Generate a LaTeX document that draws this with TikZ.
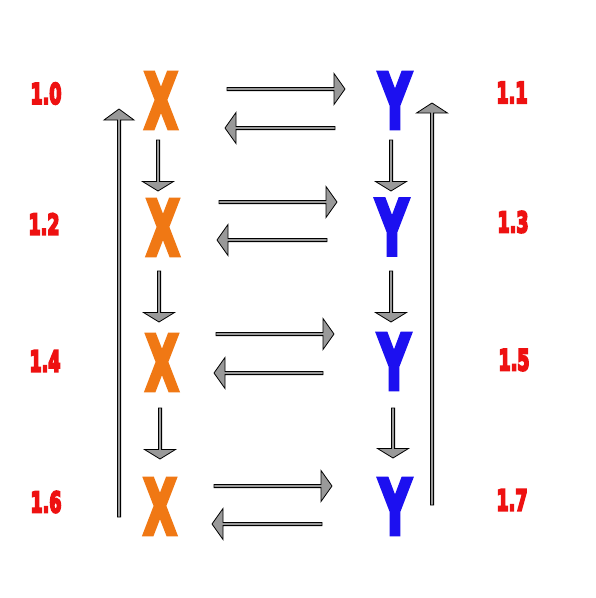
\documentclass[tikz,border=0pt]{standalone}
\usepackage{fontspec}
\usepackage{graphicx}
\usetikzlibrary{calc}
\newfontfamily\heavy{DejaVu Sans}[FakeBold=6]
\newfontfamily\heavier{DejaVu Sans}[FakeBold=8]
\definecolor{xorange}{HTML}{F07814}
\definecolor{yblue}{HTML}{1C10F0}
\definecolor{lred}{HTML}{EE1111}
\definecolor{agray}{HTML}{999999}
\tikzset{
  letter/.style={inner sep=0pt, font=\heavy\bfseries},
  xletter/.style={letter, text=xorange},
  yletter/.style={letter, text=yblue},
  numlabel/.style={inner sep=0pt, font=\heavier\bfseries, text=lred},
  arrowbody/.style={draw=black, fill=agray, line width=0.8pt, line join=miter}
}
% #1 start, #2 end, #3 head length, #4 head half width
\newcommand\blockarrow[4]{%
  \path ($(#2)!#3!(#1)$) coordinate (hb);
  \draw[arrowbody] ($(#1)!1.6pt!90:(#2)$) -- ($(hb)!1.6pt!-90:(#1)$)
    -- ($(hb)!#4!-90:(#1)$) -- (#2) -- ($(hb)!#4!90:(#1)$)
    -- ($(hb)!1.6pt!90:(#1)$) -- ($(#1)!1.6pt!-90:(#2)$) -- cycle;
}
\newcommand\xl{\resizebox{33pt}{55pt}{X}}
\newcommand\yl{\resizebox{32pt}{55pt}{Y}}
\newcommand\nl[1]{\resizebox{31pt}{21pt}{#1}}
\begin{document}
\begin{tikzpicture}[x=1pt,y=-1pt]
\useasboundingbox (0,0) rectangle (596,598);
\fill[white] (0,0) rectangle (596,598);
% letters
\node[xletter] (X1) at (161,100.5) {\xl};
\node[xletter] (X2) at (163,227.5) {\xl};
\node[xletter] (X3) at (162,362.5) {\xl};
\node[xletter] (X4) at (160,506.5) {\xl};
\node[yletter] (Y1) at (395,100.5) {\yl};
\node[yletter] (Y2) at (392,227) {\yl};
\node[yletter] (Y3) at (394,361.5) {\yl};
\node[yletter] (Y4) at (395,506.5) {\yl};
% labels
\node[numlabel] (L10) at (46,93.5) {\nl{1.0}};
\node[numlabel] (L12) at (44,224) {\nl{1.2}};
\node[numlabel] (L14) at (45,361) {\nl{1.4}};
\node[numlabel] (L16) at (46,502) {\nl{1.6}};
\node[numlabel] (L11) at (512,92.5) {\nl{1.1}};
\node[numlabel] (L13) at (513,222) {\nl{1.3}};
\node[numlabel] (L15) at (514,360) {\nl{1.5}};
\node[numlabel] (L17) at (512,500) {\nl{1.7}};
% arrow end points
\coordinate (r1a) at (227,89);  \coordinate (r1b) at (345,89);
\coordinate (l1a) at (335,128); \coordinate (l1b) at (225,128);
\coordinate (r2a) at (219,202); \coordinate (r2b) at (337,202);
\coordinate (l2a) at (327,240); \coordinate (l2b) at (217,240);
\coordinate (r3a) at (216,334); \coordinate (r3b) at (334,334);
\coordinate (l3a) at (323,373); \coordinate (l3b) at (214,373);
\coordinate (r4a) at (214,486); \coordinate (r4b) at (332,486);
\coordinate (l4a) at (322,524); \coordinate (l4b) at (212,524);
\coordinate (xd1a) at (158,140); \coordinate (xd1b) at (158,191);
\coordinate (xd2a) at (159,271); \coordinate (xd2b) at (159,322);
\coordinate (xd3a) at (160,408); \coordinate (xd3b) at (160,459);
\coordinate (yd1a) at (391,140); \coordinate (yd1b) at (391,191);
\coordinate (yd2a) at (391,271); \coordinate (yd2b) at (391,322);
\coordinate (yd3a) at (393,408); \coordinate (yd3b) at (393,458);
\coordinate (ula) at (119,517); \coordinate (ulb) at (119,109);
\coordinate (ura) at (432,505); \coordinate (urb) at (432,103);
% horizontal arrows
\blockarrow{r1a}{r1b}{11pt}{15.5pt}
\blockarrow{l1a}{l1b}{11pt}{15.5pt}
\blockarrow{r2a}{r2b}{11pt}{15.5pt}
\blockarrow{l2a}{l2b}{11pt}{15.5pt}
\blockarrow{r3a}{r3b}{11pt}{15.5pt}
\blockarrow{l3a}{l3b}{11pt}{15.5pt}
\blockarrow{r4a}{r4b}{11pt}{15.5pt}
\blockarrow{l4a}{l4b}{11pt}{15.5pt}
% vertical arrows
\blockarrow{xd1a}{xd1b}{9.5pt}{15.5pt}
\blockarrow{xd2a}{xd2b}{9.5pt}{15.5pt}
\blockarrow{xd3a}{xd3b}{9.5pt}{15.5pt}
\blockarrow{yd1a}{yd1b}{9.5pt}{15.5pt}
\blockarrow{yd2a}{yd2b}{9.5pt}{15.5pt}
\blockarrow{yd3a}{yd3b}{9.5pt}{15.5pt}
\blockarrow{ula}{ulb}{11pt}{15pt}
\blockarrow{ura}{urb}{10pt}{15.5pt}
\end{tikzpicture}
\end{document}
